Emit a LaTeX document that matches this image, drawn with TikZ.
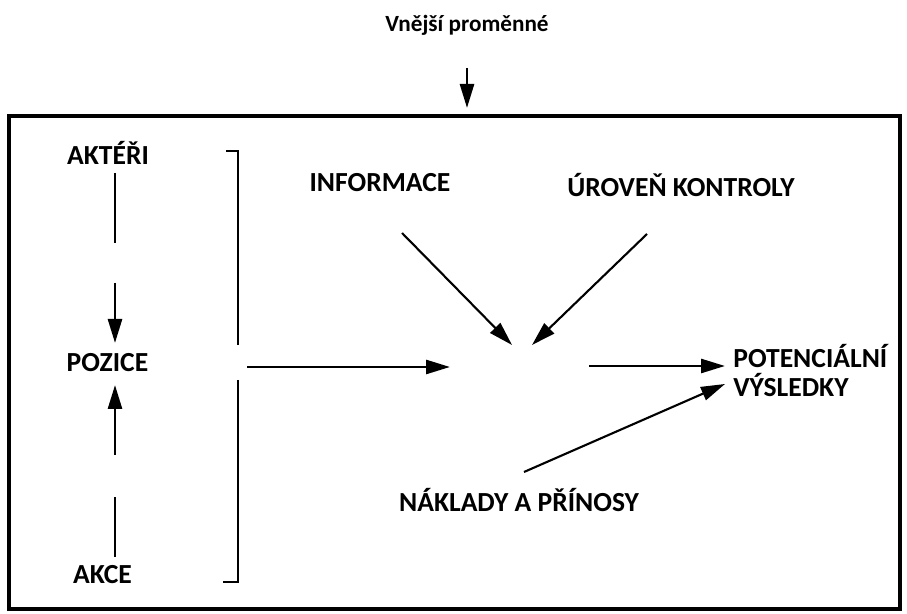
\documentclass[tikz,border=0pt]{standalone}
\usepackage{fontspec}
\setmainfont{Carlito}
\usetikzlibrary{arrows.meta}

\tikzset{
  lbl/.style={font=\bfseries\fontsize{15.7}{16.5}\selectfont, inner sep=0pt},
  arr/.style={line width=1.5pt, -{Triangle[length=4.8mm, width=2.8mm]}},
  thinarr/.style={arr, line width=1.2pt},
  bar/.style={line width=1.5pt}
}

\begin{document}
\begin{tikzpicture}
\useasboundingbox (0,0) rectangle (18.14,12.28);

% title and outer frame
\node[lbl, font=\bfseries\fontsize{13.2}{14}\selectfont] at (9.34, 11.78) (title) {Vnější proměnné};
\node[draw, line width=1.8pt, minimum width=17.82cm, minimum height=9.86cm, inner sep=0pt] at (9.09, 5.03) (frame) {};
\coordinate (tin) at (9.34, 10.92);
\coordinate (tout) at (9.34, 10.12);
\draw[arr] (tin) -- (tout);

% left column
\node[lbl] at (2.16, 9.22) (actors) {AKTÉŘI};
\node[lbl] at (2.15, 5.02) (position) {POZICE};
\node[lbl] at (2.05, 0.78) (actions) {AKCE};
\coordinate (a1) at (2.30, 8.82);
\coordinate (a2) at (2.30, 7.42);
\coordinate (a3) at (2.30, 6.62);
\coordinate (a4) at (2.30, 5.42);
\draw[bar] (a1) -- (a2);
\draw[arr] (a3) -- (a4);
\coordinate (c1) at (2.30, 1.14);
\coordinate (c2) at (2.30, 2.34);
\coordinate (c3) at (2.30, 3.18);
\coordinate (c4) at (2.30, 4.58);
\draw[bar] (c1) -- (c2);
\draw[arr] (c3) -- (c4);

% bracket
\draw[bar] (4.52, 9.26) -- (4.76, 9.26) -- (4.76, 5.38);
\draw[bar] (4.76, 4.68) -- (4.76, 0.64) -- (4.46, 0.64);

% centre
\coordinate (brk) at (4.94, 4.94);
\coordinate (hubW) at (9.00, 4.94);
\coordinate (hubE) at (11.78, 4.96);
\coordinate (hubNW) at (10.24, 5.38);
\coordinate (hubNE) at (10.64, 5.38);
\draw[arr] (brk) -- (hubW);

% information and control
\node[lbl] at (7.60, 8.62) (info) {INFORMACE};
\node[lbl] at (13.62, 8.58) (control) {ÚROVEŇ KONTROLY};
\coordinate (iout) at (8.04, 7.62);
\coordinate (kout) at (12.94, 7.60);
\draw[thinarr] (iout) -- (hubNW);
\draw[thinarr] (kout) -- (hubNE);

% outcomes
\node[lbl, anchor=west, align=left] at (14.66, 4.86) (outcome) {POTENCIÁLNÍ\\VÝSLEDKY};
\coordinate (oin) at (14.50, 4.96);
\coordinate (oin2) at (14.50, 4.60);
\draw[arr] (hubE) -- (oin);

% costs and benefits
\node[lbl] at (10.38, 2.28) (costs) {NÁKLADY A PŘÍNOSY};
\coordinate (cout) at (10.48, 2.84);
\draw[thinarr] (cout) -- (oin2);

\end{tikzpicture}
\end{document}
